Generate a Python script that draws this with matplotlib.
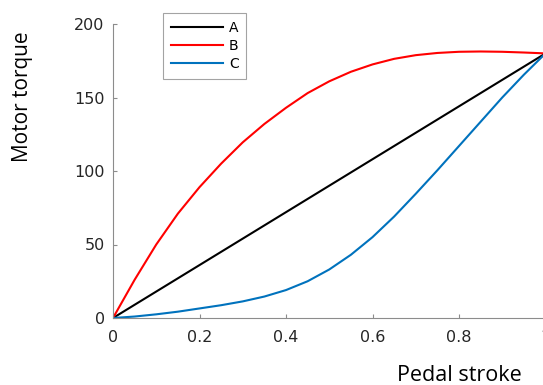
import matplotlib
matplotlib.use("Agg")
import matplotlib.pyplot as plt

# pedal stroke (0..1) and motor torque for the three mappings
stroke = [0.0, 0.05, 0.1, 0.15, 0.2, 0.25, 0.3, 0.35, 0.4, 0.45, 0.5,
          0.55, 0.6, 0.65, 0.7, 0.75, 0.8, 0.85, 0.9, 0.95, 1.0]
torqueA = [0, 9, 18, 27, 36, 45, 54, 63, 72, 81, 90,
           99, 108, 117, 126, 135, 144, 153, 162, 171, 180]
torqueB = [0, 26, 50, 71, 89, 105, 119.5, 132, 143, 153, 161,
           167.5, 172.5, 176.3, 178.8, 180.3, 181.1, 181.3, 181.1, 180.6, 180]
torqueC = [0, 1, 2.5, 4.3, 6.5, 8.7, 11.3, 14.6, 19, 25, 33,
           43, 55, 69, 84.5, 100.5, 117, 133.5, 150, 165.5, 180]
labels = ["A", "B", "C"]

plt.rcParams["font.family"] = ["DejaVu Sans"]

fig = plt.figure(figsize=(5.43, 3.85), dpi=100)
ax = fig.add_axes([113 / 543, 67 / 385, 432.5 / 543, 294 / 385])

ax.plot(stroke, torqueA, color="black", lw=1.5, label=labels[0])
ax.plot(stroke, torqueB, color="#ff0000", lw=1.5, label=labels[1])
ax.plot(stroke, torqueC, color="#0072bd", lw=1.5, label=labels[2])

ax.set_xlim(0, 1)
ax.set_ylim(0, 200)
ax.set_xticks([0, 0.2, 0.4, 0.6, 0.8, 1])
ax.set_xticklabels(["0", "0.2", "0.4", "0.6", "0.8", "1"])
ax.set_yticks([0, 50, 100, 150, 200])

for side in ["top", "right"]:
    ax.spines[side].set_visible(False)
for side in ["left", "bottom"]:
    ax.spines[side].set_color("#8c8c8c")
    ax.spines[side].set_linewidth(0.8)
ax.tick_params(direction="in", length=3, width=0.8, color="#8c8c8c",
               labelsize=11.5, labelcolor="#262626")
ax.tick_params(axis="x", pad=8.5)
ax.tick_params(axis="y", pad=6)

ax.set_ylabel("Motor torque", family="Open Sans", fontsize=15,
              va="baseline", ha="center", rotation_mode="anchor")
ax.yaxis.set_label_coords(-0.196, 0.753)
ax.set_xlabel("Pedal stroke", family="Open Sans", fontsize=15.5,
              va="baseline", ha="left")
ax.xaxis.set_label_coords(0.657, -0.213)

leg = fig.legend(loc="upper left", bbox_to_anchor=(163 / 543, 1 - 13 / 385),
                 borderaxespad=0, fancybox=False, edgecolor="#8c8c8c",
                 fontsize=10, handlelength=3.75, handletextpad=0.45,
                 labelspacing=0.3, borderpad=0.55)
leg.get_frame().set_linewidth(0.8)

fig.savefig("out.png", dpi=100)
